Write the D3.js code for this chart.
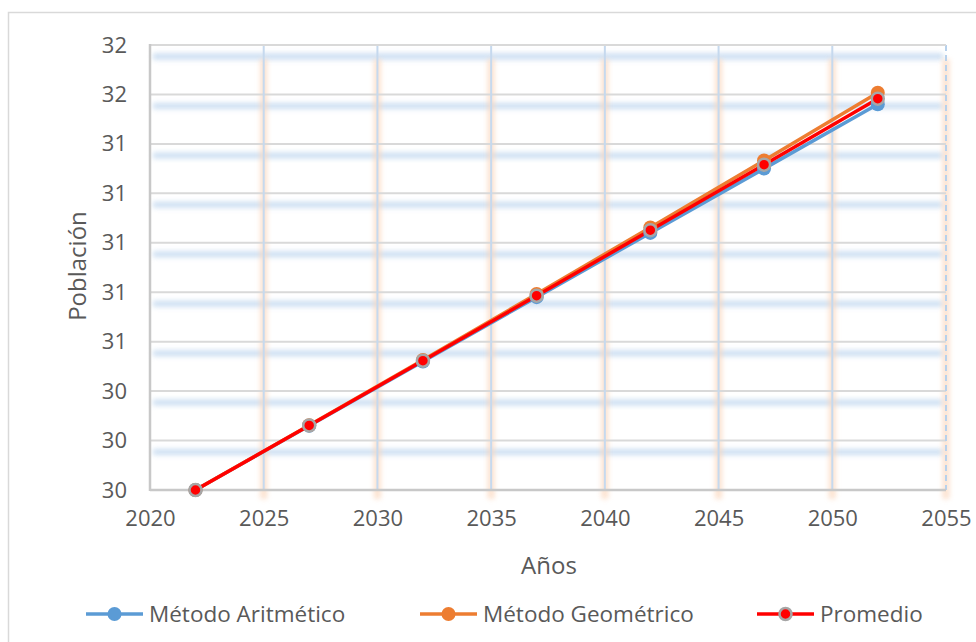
<!DOCTYPE html>
<html>
<head>
<meta charset="utf-8">
<script src="https://cdn.jsdelivr.net/npm/d3@7/dist/d3.min.js"></script>
<style>
  html, body { margin: 0; padding: 0; background: #fff; }
  svg { display: block; font-family: "Open Sans", "Noto Sans", sans-serif; }
</style>
</head>
<body>
<svg id="chart" width="976" height="642"></svg>
<script>
// Population projections by year
const years = [2022, 2027, 2032, 2037, 2042, 2047, 2052];
const aritmetico = [30.0, 30.26, 30.52, 30.78, 31.04, 31.30, 31.56];
const geometrico = [30.0, 30.262, 30.526, 30.793, 31.062, 31.333, 31.607];
const promedio = [30.0, 30.261, 30.523, 30.786, 31.051, 31.316, 31.583];

const xTicks = [2020, 2025, 2030, 2035, 2040, 2045, 2050, 2055];
const yTicks = [30.0, 30.2, 30.4, 30.6, 30.8, 31.0, 31.2, 31.4, 31.6, 31.8];

const seriesNames = ["Método Aritmético", "Método Geométrico", "Promedio"];

const svg = d3.select("#chart");
const textColor = "#595959";

const x = d3.scaleLinear().domain([2020, 2055]).range([150, 946]);
const y = d3.scaleLinear().domain([30.0, 31.8]).range([490, 45]);

// Outer chart frame
svg.append("rect")
  .attr("x", 8.5).attr("y", 12.5).attr("width", 1000).attr("height", 700)
  .attr("fill", "none").attr("stroke", "#d9d9d9").attr("stroke-width", 1.5);

const defs = svg.append("defs");
defs.append("filter").attr("id", "soft").attr("x", "-50%").attr("y", "-50%")
  .attr("width", "200%").attr("height", "200%")
  .append("feGaussianBlur").attr("stdDeviation", 2.6);
defs.append("filter").attr("id", "softer").attr("x", "-50%").attr("y", "-50%")
  .attr("width", "200%").attr("height", "200%")
  .append("feGaussianBlur").attr("stdDeviation", 2.8);

const grid = svg.append("g");

// Soft blue bands under the horizontal gridlines
grid.append("g").attr("filter", "url(#soft)").attr("opacity", 0.75)
  .selectAll("line").data(yTicks.slice(1).concat([31.8]))
  .join("line")
  .attr("x1", 153).attr("x2", 943)
  .attr("y1", d => y(d) + 11.5).attr("y2", d => y(d) + 11.5)
  .attr("stroke", "#bcd4ee").attr("stroke-width", 6);

// Soft orange bands along the vertical gridlines
grid.append("g").attr("filter", "url(#softer)").attr("opacity", 0.7)
  .selectAll("line").data(xTicks.slice(1))
  .join("line")
  .attr("x1", d => x(d)).attr("x2", d => x(d))
  .attr("y1", y(31.8) + 14).attr("y2", y(30.0) + 9)
  .attr("stroke", "#fbd6bb").attr("stroke-width", 7);

// Horizontal gridlines
grid.append("g").selectAll("line").data(yTicks.slice(1))
  .join("line")
  .attr("x1", 150).attr("x2", 946)
  .attr("y1", d => y(d)).attr("y2", d => y(d))
  .attr("stroke", "#d9d9d9").attr("stroke-width", 2);

// Vertical gridlines
grid.append("g").selectAll("line").data(xTicks.slice(1, -1))
  .join("line")
  .attr("x1", d => x(d)).attr("x2", d => x(d))
  .attr("y1", y(31.8)).attr("y2", y(30.0))
  .attr("stroke", "#c6d9ee").attr("stroke-width", 2);

// Right edge, dashed
grid.append("line")
  .attr("x1", x(2055)).attr("x2", x(2055))
  .attr("y1", y(31.8)).attr("y2", y(30.0))
  .attr("stroke", "#b7d1ec").attr("stroke-width", 2)
  .attr("stroke-dasharray", "6,4");

// Axes
const xAxis = d3.axisBottom(x).tickValues(xTicks).tickFormat(d3.format("d")).tickSize(0).tickPadding(20);
const yAxis = d3.axisLeft(y).tickValues(yTicks).tickFormat(d3.format(".0f")).tickSize(0).tickPadding(23);

const gx = svg.append("g").attr("transform", `translate(0,${y(30.0)})`).call(xAxis);
const gy = svg.append("g").attr("transform", `translate(${x(2020)},0)`).call(yAxis);

[gx, gy].forEach(g => {
  g.select(".domain").remove();
  g.selectAll("text").attr("fill", textColor).attr("font-size", 22)
    .attr("font-family", "'Open Sans', sans-serif");
});

// Plot frame: top, left, bottom
svg.append("line").attr("x1", 150).attr("x2", 946).attr("y1", y(31.8)).attr("y2", y(31.8))
  .attr("stroke", "#d9d9d9").attr("stroke-width", 2);
svg.append("line").attr("x1", 150).attr("x2", 150).attr("y1", y(31.8) - 1).attr("y2", y(30.0) + 1)
  .attr("stroke", "#c8c8c8").attr("stroke-width", 2.5);
svg.append("line").attr("x1", 150).attr("x2", 946).attr("y1", y(30.0)).attr("y2", y(30.0))
  .attr("stroke", "#c8c8c8").attr("stroke-width", 2.5);

// Axis titles
svg.append("text").attr("x", 549).attr("y", 566).attr("dy", "0.35em")
  .attr("text-anchor", "middle").attr("fill", textColor).attr("font-size", 24)
  .text("Años");
svg.append("text").attr("transform", "translate(78,266) rotate(-90)").attr("dy", "0.35em")
  .attr("text-anchor", "middle").attr("fill", textColor).attr("font-size", 24)
  .text("Población");

// Series
const series = [
  { name: seriesNames[0], values: aritmetico, color: "#5b9bd5", marker: "#5b9bd5", stroke: "none" },
  { name: seriesNames[1], values: geometrico, color: "#ed7d31", marker: "#ed7d31", stroke: "none" },
  { name: seriesNames[2], values: promedio, color: "#ff0000", marker: "#ff0000", stroke: "#a6a6a6" }
];

const line = d3.line().x((d, i) => x(years[i])).y(d => y(d));

series.forEach(s => {
  svg.append("path").datum(s.values)
    .attr("d", line).attr("fill", "none")
    .attr("stroke", s.color).attr("stroke-width", 3.5)
    .attr("stroke-linejoin", "round").attr("stroke-linecap", "round");
});

series.forEach(s => {
  svg.append("g").selectAll("circle").data(s.values)
    .join("circle")
    .attr("cx", (d, i) => x(years[i])).attr("cy", d => y(d))
    .attr("r", s.stroke === "none" ? 7 : 6)
    .attr("fill", s.marker)
    .attr("stroke", s.stroke === "none" ? null : s.stroke)
    .attr("stroke-width", 2.5);
});

// Legend
const legendX = [86, 420, 757];
const legend = svg.append("g");
series.forEach((s, i) => {
  const g = legend.append("g").attr("transform", `translate(${legendX[i]},614)`);
  g.append("line").attr("x1", 0).attr("x2", 57).attr("y1", 0).attr("y2", 0)
    .attr("stroke", s.color).attr("stroke-width", 3.5);
  g.append("circle").attr("cx", 28.5).attr("cy", 0)
    .attr("r", s.stroke === "none" ? 7 : 6)
    .attr("fill", s.marker)
    .attr("stroke", s.stroke === "none" ? null : s.stroke)
    .attr("stroke-width", 2.5);
  g.append("text").attr("x", 63).attr("y", 0).attr("dy", "0.35em")
    .attr("fill", textColor).attr("font-size", 22.5).text(s.name);
});
</script>
</body>
</html>
